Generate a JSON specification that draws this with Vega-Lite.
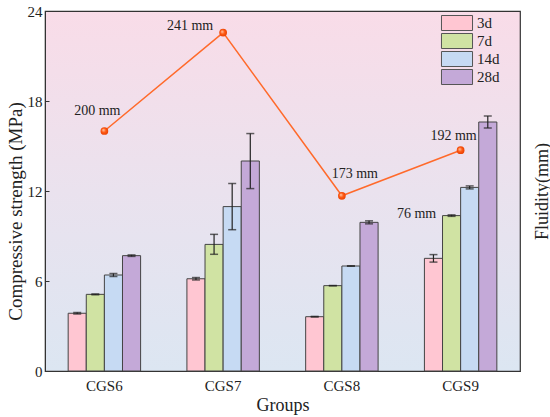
{
  "$schema": "https://vega.github.io/schema/vega-lite/v6.json",
  "width": 475,
  "height": 360,
  "autosize": {"type": "none"},
  "padding": {"left": 45, "top": 11, "right": 30, "bottom": 46},
  "background": "white",
  "config": {
    "font": "Liberation Serif",
    "view": {
      "stroke": "#333",
      "strokeWidth": 1.2,
      "fill": {
        "gradient": "linear",
        "x1": 0, "y1": 0, "x2": 0, "y2": 1,
        "stops": [
          {"offset": 0, "color": "#F9DCE8"},
          {"offset": 0.5, "color": "#EAE2EE"},
          {"offset": 1, "color": "#DCE6F2"}
        ]
      }
    },
    "axis": {
      "labelFont": "Liberation Serif",
      "labelFontSize": 15,
      "labelColor": "#222",
      "titleFont": "Liberation Serif",
      "titleFontSize": 19,
      "titleFontWeight": "normal",
      "titleColor": "#222",
      "domainColor": "#333",
      "tickColor": "#333",
      "grid": false
    },
    "text": {"font": "Liberation Serif", "fontSize": 14, "color": "#222"}
  },
  "datasets": {
    "strength": [
      {"group": "CGS6", "age": "3d", "value": 3.85, "lo": 3.8, "hi": 3.9},
      {"group": "CGS6", "age": "7d", "value": 5.11, "lo": 5.08, "hi": 5.14},
      {"group": "CGS6", "age": "14d", "value": 6.4, "lo": 6.3, "hi": 6.5},
      {"group": "CGS6", "age": "28d", "value": 7.69, "lo": 7.64, "hi": 7.74},
      {"group": "CGS7", "age": "3d", "value": 6.15, "lo": 6.07, "hi": 6.23},
      {"group": "CGS7", "age": "7d", "value": 8.44, "lo": 7.78, "hi": 9.11},
      {"group": "CGS7", "age": "14d", "value": 10.96, "lo": 9.42, "hi": 12.5},
      {"group": "CGS7", "age": "28d", "value": 14.0, "lo": 12.16, "hi": 15.83},
      {"group": "CGS8", "age": "3d", "value": 3.62, "lo": 3.6, "hi": 3.64},
      {"group": "CGS8", "age": "7d", "value": 5.69, "lo": 5.68, "hi": 5.7},
      {"group": "CGS8", "age": "14d", "value": 7.0, "lo": 6.99, "hi": 7.01},
      {"group": "CGS8", "age": "28d", "value": 9.91, "lo": 9.81, "hi": 10.01},
      {"group": "CGS9", "age": "3d", "value": 7.51, "lo": 7.26, "hi": 7.76},
      {"group": "CGS9", "age": "7d", "value": 10.36, "lo": 10.31, "hi": 10.41},
      {"group": "CGS9", "age": "14d", "value": 12.24, "lo": 12.14, "hi": 12.34},
      {"group": "CGS9", "age": "28d", "value": 16.6, "lo": 16.2, "hi": 17.0}
    ],
    "note": [
      {"group": "CGS9", "value": 10.47, "label": "76 mm"}
    ],
    "fluidity": [
      {"group": "CGS6", "fluidity": 200, "label": "200 mm"},
      {"group": "CGS7", "fluidity": 241, "label": "241 mm"},
      {"group": "CGS8", "fluidity": 173, "label": "173 mm"},
      {"group": "CGS9", "fluidity": 192, "label": "192 mm"}
    ]
  },
  "layer": [
    {
      "layer": [
        {
          "data": {"name": "strength"},
          "mark": {"type": "bar", "stroke": "#444", "strokeWidth": 1},
          "encoding": {
            "x": {
              "field": "group",
              "type": "nominal",
              "scale": {"paddingInner": 0.39, "paddingOuter": 0.195},
              "axis": {"title": "Groups", "labelAngle": 0, "ticks": false, "labelPadding": 7, "titleFontSize": 18, "titlePadding": 3}
            },
            "xOffset": {
              "field": "age",
              "type": "nominal",
              "sort": ["3d", "7d", "14d", "28d"],
              "scale": {"paddingInner": 0, "paddingOuter": 0}
            },
            "y": {
              "field": "value",
              "type": "quantitative",
              "title": "Compressive strength (MPa)",
              "scale": {"domain": [0, 24]},
              "axis": {"values": [0, 6, 12, 18, 24], "tickSize": -4, "labelPadding": 7, "titleX": -30, "titleY": 200, "titleBaseline": "middle"}
            },
            "color": {
              "field": "age",
              "type": "nominal",
              "scale": {"domain": ["3d", "7d", "14d", "28d"], "range": ["#FFC6D2", "#D0E3A3", "#C6DAF3", "#C4A9D8"]},
              "legend": {
                "title": null,
                "orient": "none",
                "legendX": 404,
                "legendY": 4,
                "padding": 0,
                "symbolType": "M-2.07,-1H2.07V1H-2.07Z",
                "symbolSize": 225,
                "symbolStrokeColor": "#555",
                "symbolStrokeWidth": 1,
                "symbolOpacity": 1,
                "labelFont": "Liberation Serif",
                "labelFontSize": 15,
                "labelColor": "#222",
                "labelOffset": 12,
                "rowPadding": -2.6
              }
            }
          }
        },
        {
          "data": {"name": "strength"},
          "mark": {"type": "rule", "color": "#222", "strokeWidth": 1.2},
          "encoding": {
            "x": {"field": "group", "type": "nominal"},
            "xOffset": {"field": "age", "type": "nominal", "sort": ["3d", "7d", "14d", "28d"]},
            "y": {"field": "lo", "type": "quantitative", "title": "Compressive strength (MPa)"},
            "y2": {"field": "hi"}
          }
        },
        {
          "data": {"name": "strength"},
          "mark": {"type": "tick", "color": "#222", "size": 8, "thickness": 1.5, "orient": "horizontal"},
          "encoding": {
            "x": {"field": "group", "type": "nominal"},
            "xOffset": {"field": "age", "type": "nominal", "sort": ["3d", "7d", "14d", "28d"]},
            "y": {"field": "lo", "type": "quantitative", "title": "Compressive strength (MPa)"}
          }
        },
        {
          "data": {"name": "strength"},
          "mark": {"type": "tick", "color": "#222", "size": 8, "thickness": 1.5, "orient": "horizontal"},
          "encoding": {
            "x": {"field": "group", "type": "nominal"},
            "xOffset": {"field": "age", "type": "nominal", "sort": ["3d", "7d", "14d", "28d"]},
            "y": {"field": "hi", "type": "quantitative", "title": "Compressive strength (MPa)"}
          }
        },
        {
          "data": {"name": "note"},
          "mark": {"type": "text", "dx": -44, "baseline": "middle"},
          "encoding": {
            "x": {"field": "group", "type": "nominal"},
            "y": {"field": "value", "type": "quantitative", "title": "Compressive strength (MPa)"},
            "text": {"field": "label"}
          }
        }
      ]
    },
    {
      "data": {"name": "fluidity"},
      "encoding": {
        "x": {"field": "group", "type": "nominal"},
        "y": {
          "field": "fluidity",
          "type": "quantitative",
          "title": "Fluidity(mm)",
          "scale": {"domain": [100, 250]},
          "axis": {"orient": "right", "labels": false, "ticks": false, "domain": false, "titleAngle": 270, "titleFontSize": 18, "titleX": 22, "titleBaseline": "middle"}
        }
      },
      "layer": [
        {"mark": {"type": "line", "color": "#FF6A2B", "strokeWidth": 1.5}},
        {
          "mark": {
            "type": "point",
            "filled": true,
            "size": 60,
            "opacity": 1,
            "color": {
              "gradient": "radial",
              "x1": 0.35, "y1": 0.35, "r1": 0,
              "x2": 0.5, "y2": 0.5, "r2": 0.55,
              "stops": [
                {"offset": 0, "color": "#FFD2B5"},
                {"offset": 0.5, "color": "#FF5A14"},
                {"offset": 1, "color": "#E63E00"}
              ]
            }
          }
        },
        {
          "transform": [{"filter": "datum.group == 'CGS6'"}],
          "mark": {"type": "text", "dx": -7, "dy": -20, "baseline": "middle"},
          "encoding": {"text": {"field": "label"}}
        },
        {
          "transform": [{"filter": "datum.group == 'CGS7'"}],
          "mark": {"type": "text", "dx": -33, "dy": -7, "baseline": "middle"},
          "encoding": {"text": {"field": "label"}}
        },
        {
          "transform": [{"filter": "datum.group == 'CGS8'"}],
          "mark": {"type": "text", "dx": 13, "dy": -22, "baseline": "middle"},
          "encoding": {"text": {"field": "label"}}
        },
        {
          "transform": [{"filter": "datum.group == 'CGS9'"}],
          "mark": {"type": "text", "dx": -7, "dy": -14, "baseline": "middle"},
          "encoding": {"text": {"field": "label"}}
        }
      ]
    }
  ],
  "resolve": {"scale": {"y": "independent"}}
}
